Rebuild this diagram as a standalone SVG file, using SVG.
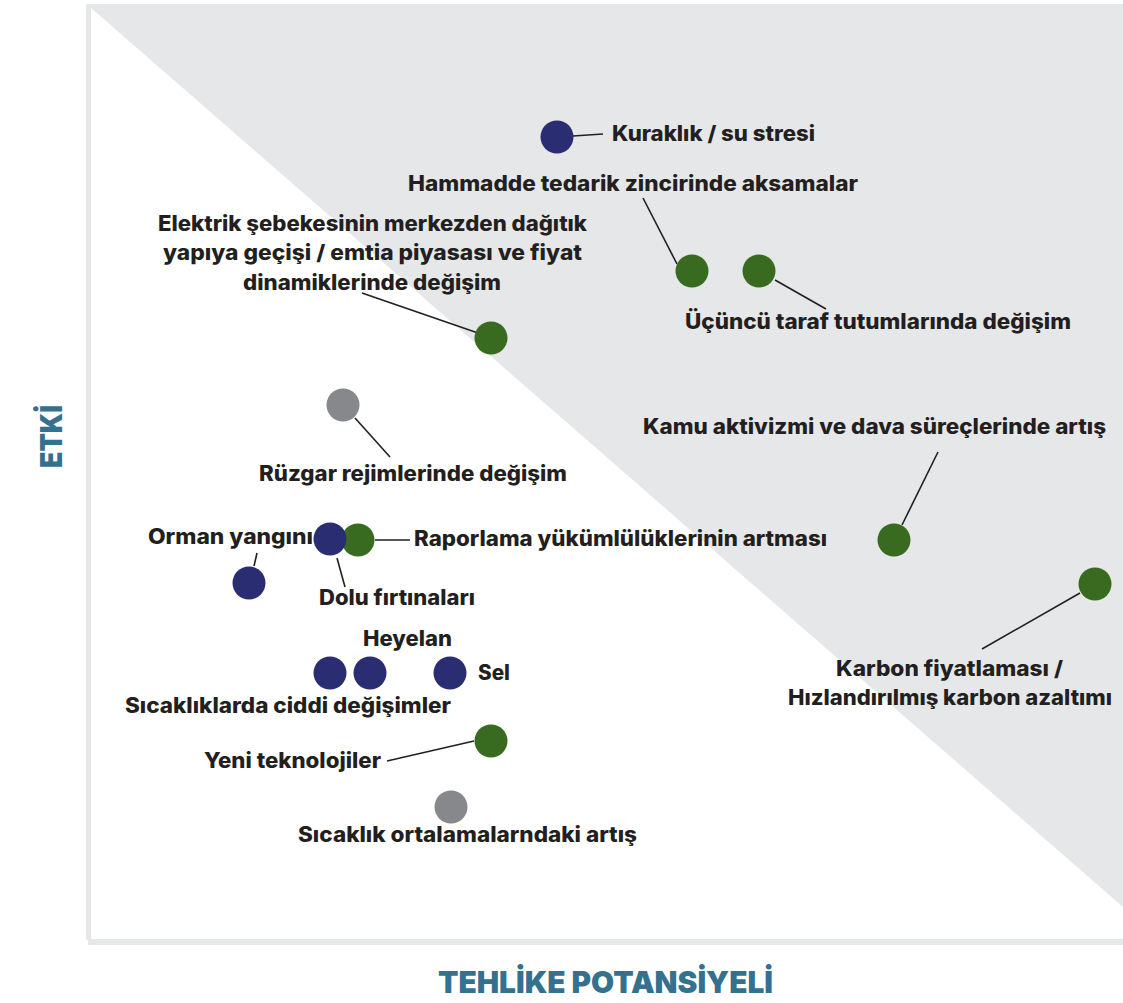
<svg xmlns="http://www.w3.org/2000/svg" width="1123" height="1003" viewBox="0 0 1123 1003">
<style>
.lbl{font-family:"Inter","Liberation Sans",sans-serif;font-weight:800;font-size:21px;fill:#231f20}
.axis{font-family:"Inter","Liberation Sans",sans-serif;font-weight:900;font-size:30px;fill:#34718f}
.navy{fill:#2b2d72}
.green{fill:#386b1f}
.gray{fill:#87888c}
.ln{stroke:#231f20;stroke-width:1.6;fill:none}
</style>
<rect x="0" y="0" width="1123" height="1003" fill="#ffffff"/>
<g id="panel">
<rect x="86" y="4" width="1037" height="936" fill="#e6e7e9"/>
<polygon points="91,8 1123,907 1123,939 91,939" fill="#ffffff"/>
<rect x="88" y="939" width="1035" height="6" fill="#e6e7e9"/>
</g>
<g id="connectors">
<line class="ln" x1="573" y1="136" x2="603" y2="134"/>
<line class="ln" x1="643" y1="198" x2="677" y2="264"/>
<line class="ln" x1="775" y1="280" x2="826" y2="309"/>
<line class="ln" x1="362" y1="293" x2="478" y2="333"/>
<line class="ln" x1="355" y1="418" x2="390" y2="457"/>
<line class="ln" x1="257" y1="553" x2="254" y2="566"/>
<line class="ln" x1="337" y1="558" x2="345" y2="587"/>
<line class="ln" x1="375" y1="540" x2="410" y2="540"/>
<line class="ln" x1="387" y1="761" x2="474" y2="741"/>
<line class="ln" x1="938" y1="452" x2="902" y2="525"/>
<line class="ln" x1="982" y1="649" x2="1080" y2="593"/>
</g>
<g id="n-kuraklik"><circle class="navy" cx="557" cy="137" r="16.5"/><text class="lbl" x="612" y="141" textLength="203" lengthAdjust="spacingAndGlyphs">Kuraklık / su stresi</text></g>
<g id="n-hammadde"><circle class="green" cx="692" cy="271" r="16.5"/><text class="lbl" x="408" y="191" textLength="450" lengthAdjust="spacingAndGlyphs">Hammadde tedarik zincirinde aksamalar</text></g>
<g id="n-ucuncu"><circle class="green" cx="759" cy="271" r="16.5"/><text class="lbl" x="685" y="329" textLength="386" lengthAdjust="spacingAndGlyphs">Üçüncü taraf tutumlarında değişim</text></g>
<g id="n-elektrik"><circle class="green" cx="491" cy="338" r="16.5"/><text class="lbl"><tspan x="158" y="231" textLength="429" lengthAdjust="spacingAndGlyphs">Elektrik şebekesinin merkezden dağıtık</tspan><tspan x="163" y="260" textLength="419" lengthAdjust="spacingAndGlyphs">yapıya geçişi / emtia piyasası ve fiyat</tspan><tspan x="243" y="290" textLength="258" lengthAdjust="spacingAndGlyphs">dinamiklerinde değişim</tspan></text></g>
<g id="n-ruzgar"><circle class="gray" cx="343" cy="405" r="16.5"/><text class="lbl" x="259" y="481" textLength="308" lengthAdjust="spacingAndGlyphs">Rüzgar rejimlerinde değişim</text></g>
<g id="n-kamu"><circle class="green" cx="894" cy="540" r="16.5"/><text class="lbl" x="643" y="434" textLength="463" lengthAdjust="spacingAndGlyphs">Kamu aktivizmi ve dava süreçlerinde artış</text></g>
<g id="n-raporlama"><circle class="green" cx="358" cy="540" r="16.5"/><text class="lbl" x="414" y="546" textLength="413" lengthAdjust="spacingAndGlyphs">Raporlama yükümlülüklerinin artması</text></g>
<g id="n-dolu"><circle class="navy" cx="330" cy="539" r="16.5"/><text class="lbl" x="319" y="605" textLength="156" lengthAdjust="spacingAndGlyphs">Dolu fırtınaları</text></g>
<g id="n-orman"><circle class="navy" cx="249" cy="583" r="16.5"/><text class="lbl" x="148" y="544" textLength="165" lengthAdjust="spacingAndGlyphs">Orman yangını</text></g>
<g id="n-sicakliklarda"><circle class="navy" cx="330" cy="673" r="16.5"/><text class="lbl" x="125" y="713" textLength="326" lengthAdjust="spacingAndGlyphs">Sıcaklıklarda ciddi değişimler</text></g>
<g id="n-heyelan"><circle class="navy" cx="370" cy="673" r="16.5"/><text class="lbl" x="363" y="646" textLength="89" lengthAdjust="spacingAndGlyphs">Heyelan</text></g>
<g id="n-sel"><circle class="navy" cx="450" cy="673" r="16.5"/><text class="lbl" x="478" y="680" textLength="32" lengthAdjust="spacingAndGlyphs">Sel</text></g>
<g id="n-karbon"><circle class="green" cx="1095" cy="584" r="16.5"/><text class="lbl"><tspan x="836" y="676" textLength="227" lengthAdjust="spacingAndGlyphs">Karbon fiyatlaması /</tspan><tspan x="788" y="705" textLength="324" lengthAdjust="spacingAndGlyphs">Hızlandırılmış karbon azaltımı</tspan></text></g>
<g id="n-yeni"><circle class="green" cx="491" cy="741" r="16.5"/><text class="lbl" x="204" y="768" textLength="177" lengthAdjust="spacingAndGlyphs">Yeni teknolojiler</text></g>
<g id="n-ortalama"><circle class="gray" cx="451" cy="807" r="16.5"/><text class="lbl" x="298" y="842" textLength="339" lengthAdjust="spacingAndGlyphs">Sıcaklık ortalamalarndaki artış</text></g>
<g id="axes">
<text class="axis" x="438" y="993" textLength="335" lengthAdjust="spacingAndGlyphs">TEHLİKE POTANSİYELİ</text>
<text class="axis" transform="translate(62,468) rotate(-90)" x="0" y="0" textLength="63" lengthAdjust="spacingAndGlyphs">ETKİ</text>
</g>
</svg>
